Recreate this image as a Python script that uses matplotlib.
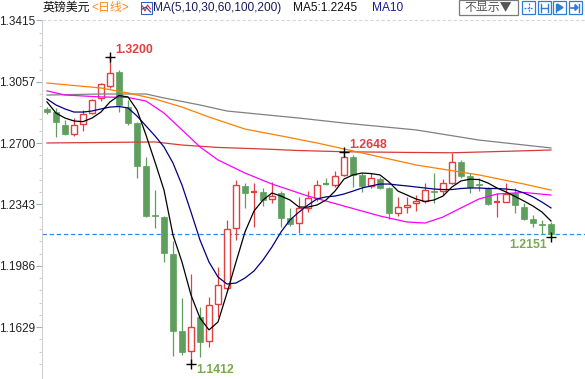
import matplotlib
matplotlib.use('Agg')
import matplotlib.pyplot as plt
from matplotlib.patches import Rectangle
import numpy as np

plt.rcParams['font.family'] = ['Liberation Sans', 'Noto Sans CJK SC', 'DejaVu Sans']

# ---------------- data (GBP/USD daily) ----------------
opens = [1.2898, 1.2883, 1.2806, 1.2752, 1.2810, 1.2874, 1.2961, 1.3033, 1.3112, 1.2910,
         1.2816, 1.2567, 1.2282, 1.2268, 1.2055, 1.1607, 1.1489, 1.1688, 1.1550, 1.1762,
         1.1859, 1.2204, 1.2452, 1.2412, 1.2414, 1.2373, 1.2410, 1.2266, 1.2234, 1.2321,
         1.2379, 1.2463, 1.2456, 1.2515, 1.2621, 1.2515, 1.2453, 1.2491, 1.2441, 1.2292,
         1.2330, 1.2349, 1.2365, 1.2424, 1.2424, 1.2470, 1.2589, 1.2509, 1.2460, 1.2438,
         1.2358, 1.2360, 1.2408, 1.2330, 1.2259, 1.2230, 1.2229]
highs = [1.2912, 1.2904, 1.2835, 1.2846, 1.2893, 1.2957, 1.3048, 1.3200, 1.3126, 1.2951,
         1.2822, 1.2621, 1.2427, 1.2276, 1.2132, 1.1801, 1.1939, 1.1748, 1.1803, 1.1977,
         1.2253, 1.2486, 1.2470, 1.2470, 1.2437, 1.2476, 1.2420, 1.2324, 1.2388, 1.2422,
         1.2486, 1.2495, 1.2540, 1.2648, 1.2631, 1.2525, 1.2525, 1.2501, 1.2447, 1.2389,
         1.2389, 1.2400, 1.2466, 1.2525, 1.2490, 1.2640, 1.2601, 1.2525, 1.2495, 1.2447,
         1.2408, 1.2466, 1.2437, 1.2350, 1.2282, 1.2253, 1.2243]
lows = [1.2868, 1.2736, 1.2746, 1.2742, 1.2771, 1.2868, 1.2945, 1.3021, 1.2883, 1.2808,
        1.2497, 1.2272, 1.2208, 1.2010, 1.1463, 1.1467, 1.1412, 1.1457, 1.1512, 1.1690,
        1.1844, 1.2136, 1.2324, 1.2214, 1.2336, 1.2354, 1.2214, 1.2215, 1.2175, 1.2299,
        1.2363, 1.2455, 1.2447, 1.2509, 1.2447, 1.2414, 1.2437, 1.2431, 1.2259, 1.2276,
        1.2292, 1.2305, 1.2352, 1.2350, 1.2398, 1.2460, 1.2495, 1.2412, 1.2420, 1.2340,
        1.2273, 1.2355, 1.2292, 1.2250, 1.2214, 1.2170, 1.2151]
closes = [1.2881, 1.2821, 1.2752, 1.2804, 1.2868, 1.2949, 1.3042, 1.3110, 1.2922, 1.2816,
          1.2567, 1.2278, 1.2274, 1.2059, 1.1609, 1.1486, 1.1630, 1.1545, 1.1758, 1.1874,
          1.2200, 1.2456, 1.2412, 1.2414, 1.2369, 1.2392, 1.2265, 1.2228, 1.2323, 1.2379,
          1.2456, 1.2460, 1.2509, 1.2621, 1.2515, 1.2453, 1.2495, 1.2441, 1.2292, 1.2330,
          1.2340, 1.2366, 1.2427, 1.2418, 1.2467, 1.2589, 1.2509, 1.2443, 1.2455, 1.2346,
          1.2361, 1.2404, 1.2340, 1.2259, 1.2234, 1.2225, 1.2170]

ma5 = [1.2940, 1.2875, 1.2846, 1.2829, 1.2825, 1.2846, 1.2881, 1.2940, 1.2977, 1.2969,
       1.2893, 1.2747, 1.2590, 1.2427, 1.2165, 1.2008, 1.1816, 1.1682, 1.1613, 1.1659,
       1.1828, 1.2008, 1.2183, 1.2305, 1.2369, 1.2410, 1.2392, 1.2369, 1.2328, 1.2328,
       1.2340, 1.2369, 1.2421, 1.2491, 1.2515, 1.2526, 1.2523, 1.2515, 1.2474, 1.2421,
       1.2398, 1.2375, 1.2360, 1.2369, 1.2392, 1.2445, 1.2480, 1.2490, 1.2488, 1.2468,
       1.2439, 1.2416, 1.2390, 1.2363, 1.2334, 1.2299, 1.2247]
ma10 = [1.2957, 1.2922, 1.2899, 1.2881, 1.2881, 1.2887, 1.2899, 1.2910, 1.2913, 1.2905,
        1.2858, 1.2800, 1.2742, 1.2678, 1.2584, 1.2456, 1.2299, 1.2136, 1.2008, 1.1921,
        1.1880, 1.1886, 1.1915, 1.1956, 1.2020, 1.2096, 1.2183, 1.2253, 1.2299, 1.2340,
        1.2375, 1.2387, 1.2392, 1.2404, 1.2421, 1.2439, 1.2451, 1.2462, 1.2462, 1.2456,
        1.2451, 1.2445, 1.2439, 1.2433, 1.2430, 1.2430, 1.2436, 1.2439, 1.2439, 1.2436,
        1.2436, 1.2433, 1.2427, 1.2410, 1.2387, 1.2357, 1.2323]
ma30_idx = [0, 2, 6, 9, 11, 13, 15, 17, 19, 22, 25, 29, 33, 37, 40, 42, 44, 46, 48, 50, 53, 56]
ma30_val = [1.3004, 1.2980, 1.2969, 1.2966, 1.2945, 1.2875, 1.2777, 1.2678, 1.2602, 1.2526,
            1.2462, 1.2392, 1.2334, 1.2276, 1.2241, 1.2235, 1.2270, 1.2323, 1.2375, 1.2404,
            1.2413, 1.2398]
ma60_idx = [0, 6, 9, 12, 15, 18, 22, 26, 30, 35, 41, 48, 53, 56]
ma60_val = [1.3050, 1.3021, 1.2992, 1.2957, 1.2910, 1.2852, 1.2782, 1.2742, 1.2701, 1.2643,
            1.2573, 1.2515, 1.2462, 1.2427]
ma100_idx = [0, 6, 11, 13, 17, 20, 28, 33, 41, 48, 56]
ma100_val = [1.2980, 1.2986, 1.2986, 1.2963, 1.2922, 1.2887, 1.2846, 1.2817, 1.2777, 1.2718, 1.2672]
ma200_idx = [0, 6, 12, 15, 19, 24, 28, 33, 40, 45, 50, 56]
ma200_val = [1.2701, 1.2704, 1.2707, 1.2689, 1.2675, 1.2666, 1.2657, 1.2650, 1.2646, 1.2644,
             1.2651, 1.2660]

ytick_vals = [1.1629, 1.1986, 1.2343, 1.2700, 1.3057, 1.3415]
marked_high_idx = [7, 33]
marked_low_idx = [16, 56]
ma5_last = 1.2245

# ---------------- styling ----------------
RED = '#e04040'
GREEN = '#5e9f5e'
LBL_GREEN = '#78a850'
W, H = 585, 379

fig = plt.figure(figsize=(W / 100, H / 100), dpi=100)
fig.patch.set_facecolor('white')
ax = fig.add_axes([42 / W, 0, 1 - 42 / W, (H - 20) / H])
ax.set_xlim(-0.556, 59.78)
ax.set_ylim(1.13273, 1.34167)

for s in ['top', 'right', 'bottom']:
    ax.spines[s].set_visible(False)
ax.spines['left'].set_color('#d0d0d0')
ax.spines['left'].set_linewidth(0.8)
ax.set_xticks([])

ax.set_yticks(ytick_vals)
ax.set_yticklabels([f'{v:.4f}' for v in ytick_vals])
minor = []
for a, b in zip(ytick_vals[:-1], ytick_vals[1:]):
    step = (b - a) / 5
    minor += [a + step * k for k in range(1, 5)]
minor += [ytick_vals[0] - (ytick_vals[1] - ytick_vals[0]) / 5 * k for k in range(1, 4)]
ax.set_yticks(minor, minor=True)
ax.tick_params(axis='y', which='major', length=4, width=0.8, color='#8fb0d8',
               labelsize=8.5, labelcolor='#222222', pad=1)
ax.tick_params(axis='y', which='minor', length=2.5, width=0.8, color='#d0d0d0')

# grid line at top
ax.axhline(ytick_vals[-1], color='#d6d6d6', lw=0.8, dashes=(3, 2), zorder=1)
# current price line
ax.axhline(closes[-1], color='#2a8af0', lw=0.9, dashes=(3.5, 2.2), zorder=1)

# candles
bw = 0.70
for i, (o, h, l, c) in enumerate(zip(opens, highs, lows, closes)):
    up = c >= o
    col = RED if up else GREEN
    ax.vlines(i, l, h, color=col, lw=0.9, zorder=2)
    lo, hi = min(o, c), max(o, c)
    if hi - lo < 0.0003:
        ax.hlines((o + c) / 2, i - bw / 2, i + bw / 2, color=col, lw=1.6, zorder=3)
    elif up:
        ax.add_patch(Rectangle((i - bw / 2 + 0.06, lo), bw - 0.12, hi - lo, facecolor='white',
                               edgecolor=col, lw=1.0, zorder=3))
    else:
        ax.add_patch(Rectangle((i - bw / 2, lo), bw, hi - lo, facecolor=col,
                               edgecolor=col, lw=0.5, zorder=3))

x_all = np.arange(len(closes))
ax.plot(ma200_idx, ma200_val, color='#d83a3a', lw=0.9, zorder=4)
ax.plot(ma100_idx, ma100_val, color='#808080', lw=0.9, zorder=4)
ax.plot(ma60_idx, ma60_val, color='#ff8000', lw=0.9, zorder=4)
ax.plot(ma30_idx, ma30_val, color='#ff00ff', lw=0.9, zorder=4)
ax.plot(x_all, ma10, color='#000080', lw=0.9, zorder=5)
ax.plot(x_all, ma5, color='#000000', lw=0.9, zorder=5)

# extreme markers
for i in marked_high_idx:
    ax.plot(i, highs[i], marker='+', color='k', ms=7, mew=1.0, zorder=6)
    ax.annotate(f'{highs[i]:.4f}', xy=(i, highs[i]), xytext=(5, 7.5), textcoords='offset pixels',
                ha='left', va='center', color=RED, fontsize=8.8, fontweight='bold', zorder=7)
i = marked_low_idx[0]
ax.plot(i, lows[i], marker='+', color='k', ms=7, mew=1.0, zorder=6)
ax.annotate(f'{lows[i]:.4f}', xy=(i, lows[i]), xytext=(5, -6), textcoords='offset pixels',
            ha='left', va='center', color=LBL_GREEN, fontsize=8.8, fontweight='bold', zorder=7,
            annotation_clip=False)
i = marked_low_idx[1]
ax.plot(i, lows[i], marker='+', color='k', ms=7, mew=1.0, zorder=6)
ax.annotate(f'{lows[i]:.4f}', xy=(i, lows[i]), xytext=(-4, -7.5), textcoords='offset pixels',
            ha='right', va='center', color=LBL_GREEN, fontsize=8.8, fontweight='bold', zorder=7)

# ---------------- header ----------------
def fx(x):
    return x / W

def fy(y):
    return 1 - y / H

fs = 8.6
fig.text(fx(43), fy(8), '英镑美元', color='#111111', fontsize=fs, va='center', ha='left')
fig.text(fx(91), fy(8), '<日线>', color='#ff8c1a', fontsize=fs, va='center', ha='left')
# small MA icon
fig.patches.append(Rectangle((fx(141), fy(13.5)), 11 / W, 12 / H, transform=fig.transFigure,
                             facecolor='white', edgecolor='#3060c0', lw=0.8))
fig.lines.append(plt.Line2D([fx(142.5), fx(145), fx(147.5), fx(150.5)],
                            [fy(6), fy(11), fy(5), fy(9)], transform=fig.transFigure,
                            color='#d03030', lw=0.8))
fig.lines.append(plt.Line2D([fx(142.5), fx(146), fx(150.5)],
                            [fy(9), fy(7), fy(12)], transform=fig.transFigure,
                            color='#2040c0', lw=0.8))
fig.text(fx(153), fy(8), 'MA(5,10,30,60,100,200)', color='#1a1a5e', fontsize=fs, va='center', ha='left')
fig.text(fx(293), fy(8), f'MA5:{ma5_last:.4f}', color='#111111', fontsize=fs, va='center', ha='left')
fig.text(fx(372), fy(8), 'MA10', color='#1a1aa0', fontsize=fs, va='center', ha='left')

# "不显示▼" button
fig.patches.append(Rectangle((fx(459), fy(15)), 59 / W, 15 / H, transform=fig.transFigure,
                             facecolor='white', edgecolor='#7a7a7a', lw=0.9))
fig.text(fx(488.5), fy(7.5), '不显示▼', color='#555555', fontsize=8.6, va='center', ha='center',
         family=['Noto Sans CJK SC', 'DejaVu Sans'])

# toolbar icons
icon_x = [522, 537.5, 553, 568.5]
blue = '#2f7bd6'
for k, x0 in enumerate(icon_x):
    fig.patches.append(Rectangle((fx(x0), fy(14)), 13 / W, 13 / H, transform=fig.transFigure,
                                 facecolor='white', edgecolor=blue, lw=0.9))
    cx, cy = x0 + 6.5, 7.5
    if k == 0:
        fig.lines.append(plt.Line2D([fx(cx), fx(cx)], [fy(cy - 4.5), fy(cy + 4.5)],
                                    transform=fig.transFigure, color=blue, lw=0.9, dashes=(1.5, 1)))
        fig.lines.append(plt.Line2D([fx(cx - 4.5), fx(cx + 4.5)], [fy(cy), fy(cy)],
                                    transform=fig.transFigure, color=blue, lw=0.9, dashes=(1.5, 1)))
    elif k == 1:
        for xx in (cx - 3.5, cx + 3.5):
            fig.lines.append(plt.Line2D([fx(xx), fx(xx)], [fy(cy - 4), fy(cy + 4)],
                                        transform=fig.transFigure, color=blue, lw=1.0))
        fig.lines.append(plt.Line2D([fx(cx - 3), fx(cx + 3)], [fy(cy), fy(cy)],
                                    transform=fig.transFigure, color=blue, lw=1.0))
    elif k == 2:
        fig.lines.append(plt.Line2D([fx(cx - 3.5), fx(cx - 3.5)], [fy(cy - 4), fy(cy + 4)],
                                    transform=fig.transFigure, color=blue, lw=1.0))
        fig.patches.append(plt.Polygon([[fx(cx - 2), fy(cy - 3.5)], [fx(cx - 2), fy(cy + 3.5)],
                                        [fx(cx + 3.5), fy(cy)]], closed=True,
                                       transform=fig.transFigure, color=blue))
    else:
        fig.lines.append(plt.Line2D([fx(cx + 3.5), fx(cx + 3.5)], [fy(cy - 4), fy(cy + 4)],
                                    transform=fig.transFigure, color=blue, lw=1.0))
        fig.lines.append(plt.Line2D([fx(cx - 4), fx(cx + 1)], [fy(cy), fy(cy)],
                                    transform=fig.transFigure, color=blue, lw=1.2))
        fig.patches.append(plt.Polygon([[fx(cx), fy(cy - 3)], [fx(cx), fy(cy + 3)],
                                        [fx(cx + 3), fy(cy)]], closed=True,
                                       transform=fig.transFigure, color=blue))

fig.savefig('out.png', dpi=100)
